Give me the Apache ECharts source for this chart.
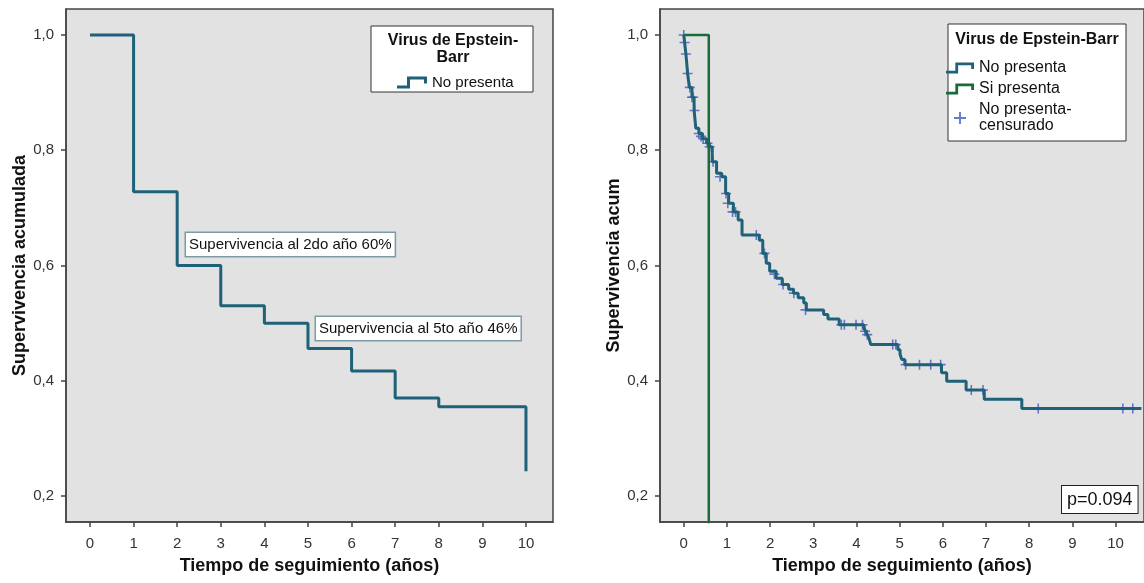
<!DOCTYPE html>
<html>
<head>
<meta charset="utf-8">
<script src="https://cdn.jsdelivr.net/npm/echarts@6/dist/echarts.min.js"></script>
<style>
	html, body { margin: 0; padding: 0; background: #fff; }
	#chart { width: 1144px; height: 583px; }
</style>
</head>
<body>
<div id="chart"></div>
<script>
	// ticks
	var xTicks = [0, 1, 2, 3, 4, 5, 6, 7, 8, 9, 10];
	var yTicks = [0.2, 0.4, 0.6, 0.8, 1.0];

	// left panel: all patients
	var leftTimes = [0, 1, 2, 3, 4, 5, 6, 7, 8, 10];
	var leftSurv = [1.0, 0.728, 0.60, 0.53, 0.50, 0.456, 0.417, 0.370, 0.355, 0.243];

	// right panel: No presenta
	var noTimes = [0, 0.02, 0.05, 0.09, 0.13, 0.19, 0.24, 0.28, 0.35, 0.43, 0.53, 0.59, 0.66, 0.76, 0.88, 0.97,
		1.04, 1.15, 1.26, 1.35, 1.75, 1.83, 1.91, 1.99, 2.14, 2.28, 2.43, 2.54, 2.65, 2.78, 2.84,
		3.24, 3.34, 3.60, 4.17, 4.21, 4.25, 4.29, 4.33, 4.96, 5.01, 5.05, 5.12, 5.97, 6.09, 6.54, 6.96, 7.83, 10.6];
	var noSurv = [1.0, 0.987, 0.967, 0.933, 0.909, 0.892, 0.869, 0.838, 0.829, 0.820, 0.812, 0.806, 0.780, 0.760, 0.754, 0.725,
		0.708, 0.693, 0.679, 0.653, 0.644, 0.621, 0.604, 0.590, 0.578, 0.567, 0.559, 0.552, 0.544, 0.535, 0.523,
		0.515, 0.507, 0.497, 0.492, 0.486, 0.480, 0.474, 0.463, 0.454, 0.446, 0.437, 0.428, 0.414, 0.399, 0.384, 0.368, 0.352, 0.352];

	// right panel: Si presenta
	var siTimes = [0, 0.58];
	var siSurv = [1.0, 0.0];

	// right panel: censored (No presenta)
	var censTimes = [0, 0.02, 0.05, 0.09, 0.14, 0.19, 0.22, 0.25, 0.35, 0.40, 0.45, 0.55, 0.60, 0.68, 0.84, 0.98,
		1.02, 1.13, 1.20, 1.68, 1.87, 2.10, 2.30, 2.55, 2.82, 3.65, 3.72, 3.99, 4.14, 4.20, 4.25, 4.84, 4.91,
		5.14, 5.46, 5.72, 5.95, 6.66, 6.93, 8.21, 10.17, 10.40];
	var censSurv = [1.0, 0.987, 0.967, 0.933, 0.909, 0.892, 0.892, 0.869, 0.829, 0.824, 0.820, 0.812, 0.806, 0.780, 0.754, 0.725,
		0.708, 0.693, 0.693, 0.653, 0.621, 0.585, 0.567, 0.552, 0.523, 0.497, 0.497, 0.497, 0.497, 0.486, 0.480, 0.463, 0.463,
		0.428, 0.428, 0.428, 0.428, 0.384, 0.384, 0.352, 0.352, 0.352];

	function pairs(xs, ys){
		var out = [];
		for(var i = 0; i < xs.length; i++)
			out.push([xs[i], ys[i]]);
		return out;
	}

	var teal = '#1e6178';
	var green = '#1b6a3a';
	var cross = '#4f63c4';
	var axisColor = '#444';
	var font = '"Liberation Sans", Arial, sans-serif';
	var stepIcon = 'path://M0,9H10V0H30V7H27V3H13V12H0Z';
	var plusIcon = 'path://M-0.8,-5H0.8V-0.8H5V0.8H0.8V5H-0.8V0.8H-5V-0.8H-0.8Z';

	function xAxisOpt(idx, mn, mx){
		return {
			type: 'value', gridIndex: idx, min: mn, max: mx,
			name: 'Tiempo de seguimiento (años)', nameLocation: 'middle', nameGap: 35,
			nameTextStyle: { fontFamily: font, fontSize: 18, fontWeight: 'bold', color: '#111' },
			axisLine: { show: true, onZero: false, lineStyle: { color: axisColor, width: 1.5 } },
			axisTick: { show: true, length: 5, customValues: xTicks, lineStyle: { color: axisColor, width: 1.5 } },
			axisLabel: { customValues: xTicks, margin: 14, fontFamily: font, fontSize: 15, color: '#333' },
			splitLine: { show: false }
		};
	}
	function yAxisOpt(idx, title){
		return {
			type: 'value', gridIndex: idx, min: 0.155, max: 1.045,
			name: title, nameLocation: 'middle', nameGap: 34,
			nameTextStyle: { fontFamily: font, fontSize: 18, fontWeight: 'bold', color: '#111' },
			axisLine: { show: true, onZero: false, lineStyle: { color: axisColor, width: 1.5 } },
			axisTick: { show: true, length: 5, customValues: yTicks, lineStyle: { color: axisColor, width: 1.5 } },
			axisLabel: {
				customValues: yTicks, margin: 12, fontFamily: font, fontSize: 15, color: '#333',
				formatter: function(v){ return v.toFixed(1).replace('.', ','); }
			},
			splitLine: { show: false }
		};
	}

	var chart = echarts.init(document.getElementById('chart'));
	chart.setOption({
		animation: false,
		backgroundColor: '#fff',
		grid: [
			{ left: 66, top: 9, width: 487, height: 513, show: true, backgroundColor: '#e2e2e2', borderColor: axisColor, borderWidth: 1.5 },
			{ left: 660, top: 9, width: 490, height: 513, show: true, backgroundColor: '#e2e2e2', borderColor: axisColor, borderWidth: 1.5 }
		],
		xAxis: [xAxisOpt(0, -0.55, 10.62), xAxisOpt(1, -0.55, 10.66)],
		yAxis: [yAxisOpt(0, 'Supervivencia acumulada'), yAxisOpt(1, 'Supervivencia acum')],
		legend: [
			{
				data: ['No presenta'], left: 392, top: 70, orient: 'vertical',
				icon: stepIcon, itemWidth: 30, itemHeight: 12, z: 6,
				itemStyle: { borderWidth: 0 },
				textStyle: { fontFamily: font, fontSize: 15, color: '#111' }
			},
			{
				data: ['No presenta', 'Si presenta', { name: 'No presenta-censurado', icon: plusIcon }],
				left: 941, top: 55, orient: 'vertical', itemGap: 5,
				icon: stepIcon, itemWidth: 28, itemHeight: 12, z: 6,
				itemStyle: { borderWidth: 0 },
				formatter: function(n){ return n == 'No presenta-censurado' ? 'No presenta-\ncensurado' : n; },
				textStyle: { fontFamily: font, fontSize: 16, lineHeight: 16, color: '#111' }
			}
		],
		graphic: [
			{ type: 'rect', z: 3, shape: { x: 371, y: 26, width: 162, height: 66 }, style: { fill: '#fff', stroke: '#333', lineWidth: 1 } },
			{ type: 'text', z: 4, x: 453, y: 32, style: { text: 'Virus de Epstein-\nBarr', align: 'center', fontFamily: font, fontSize: 16, fontWeight: 'bold', lineHeight: 17, fill: '#111' } },
			{ type: 'rect', z: 3, shape: { x: 948, y: 24, width: 178, height: 117 }, style: { fill: '#fff', stroke: '#333', lineWidth: 1 } },
			{ type: 'text', z: 4, x: 1037, y: 31, style: { text: 'Virus de Epstein-Barr', align: 'center', fontFamily: font, fontSize: 16, fontWeight: 'bold', lineHeight: 17, fill: '#111' } },
			{ type: 'text', z: 4, x: 186, y: 233, style: { text: 'Supervivencia al 2do año 60%', fontFamily: font, fontSize: 15, lineHeight: 17, fill: '#111', backgroundColor: '#fff', borderColor: '#7d9ba6', borderWidth: 1.5, padding: [3, 3, 3, 3] } },
			{ type: 'text', z: 4, x: 316, y: 317, style: { text: 'Supervivencia al 5to año 46%', fontFamily: font, fontSize: 15, lineHeight: 17, fill: '#111', backgroundColor: '#fff', borderColor: '#7d9ba6', borderWidth: 1.5, padding: [3, 3, 3, 3] } },
			{ type: 'text', z: 4, x: 1062, y: 486, style: { text: 'p=0.094', fontFamily: font, fontSize: 18, lineHeight: 20, fill: '#111', backgroundColor: '#fff', borderColor: '#222', borderWidth: 1, padding: [4, 5, 3, 5] } }
		],
		series: [
			{
				name: 'No presenta', type: 'line', xAxisIndex: 0, yAxisIndex: 0, step: 'end',
				showSymbol: false, symbol: 'none', color: teal, lineStyle: { width: 3, color: teal },
				data: pairs(leftTimes, leftSurv)
			},
			{
				name: 'No presenta', type: 'line', xAxisIndex: 1, yAxisIndex: 1, step: 'end',
				showSymbol: false, symbol: 'none', color: teal, lineStyle: { width: 3, color: teal },
				data: pairs(noTimes, noSurv)
			},
			{
				name: 'Si presenta', type: 'line', xAxisIndex: 1, yAxisIndex: 1, step: 'end',
				showSymbol: false, symbol: 'none', color: green, lineStyle: { width: 2.5, color: green },
				data: pairs(siTimes, siSurv)
			},
			{
				name: 'No presenta-censurado', type: 'scatter', xAxisIndex: 1, yAxisIndex: 1,
				symbol: plusIcon, symbolSize: 10, color: cross, itemStyle: { color: cross, opacity: 0.85 },
				data: pairs(censTimes, censSurv)
			}
		]
	});
</script>
</body>
</html>
